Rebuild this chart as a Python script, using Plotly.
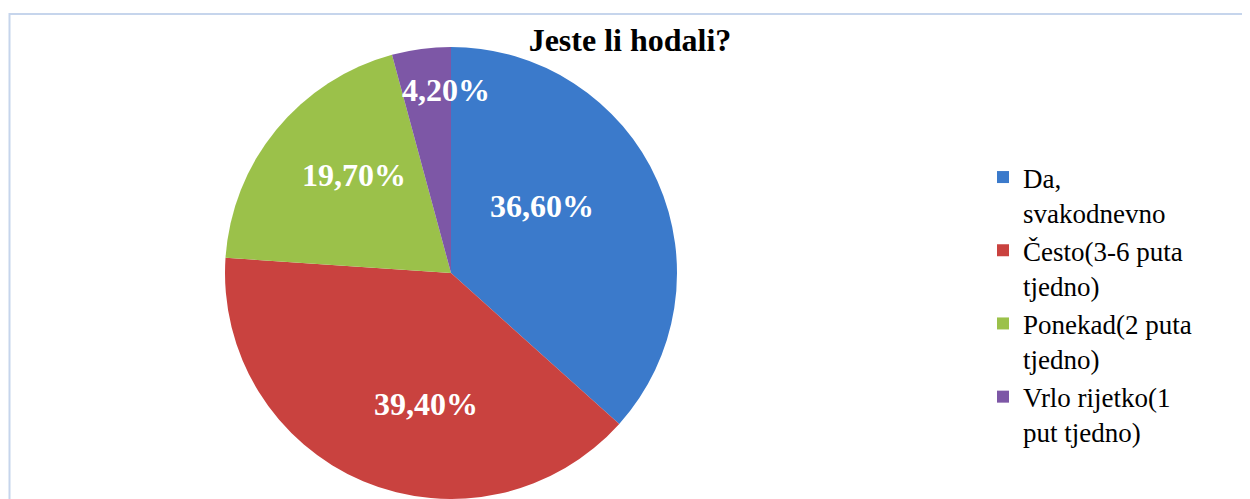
import math
import plotly.graph_objects as go

categories = ["Da,<br>svakodnevno", "Često(3-6 puta<br>tjedno)", "Ponekad(2 puta<br>tjedno)", "Vrlo rijetko(1<br>put tjedno)"]
values = [36.6, 39.4, 19.7, 4.2]
value_labels = ["36,60%", "39,40%", "19,70%", "4,20%"]
colors = ["#3b7acb", "#c9423f", "#9bc14a", "#7d57a6"]

# label placement style (fraction of radius, angular nudge in degrees)
label_rfrac = [0.50, 0.59, 0.61, 0.81]
label_dang = [-12, -12, 6, 6]

# page has an 8px body margin; figure sized to fit the 1250x499 window
W, H = 1242, 491
cx, cy, R = 443, 265, 226  # pie geometry in figure pixels

fig = go.Figure(go.Pie(
    labels=categories,
    values=values,
    textinfo="none",
    marker=dict(colors=colors, line=dict(width=0)),
    sort=False,
    direction="clockwise",
    rotation=0,
    domain=dict(x=[(cx - R) / W, (cx + R) / W], y=[(H - cy - R) / H, (H - cy + R) / H]),
    hoverinfo="label+percent",
))

total = sum(values)
cum = 0.0
annotations = []
for v, lab, rf, da in zip(values, value_labels, label_rfrac, label_dang):
    mid = (cum + v / 2) / total * 360 + da
    cum += v
    r = rf * R
    px = cx + r * math.sin(math.radians(mid))
    py = cy - r * math.cos(math.radians(mid))
    annotations.append(dict(
        x=px / W, y=(H - py) / H, xref="paper", yref="paper",
        text=f"<b>{lab}</b>", showarrow=False, xanchor="center", yanchor="middle",
        font=dict(family="Liberation Serif", size=32, color="white"),
    ))

fig.update_layout(
    width=W, height=H,
    margin=dict(l=0, r=0, t=0, b=0),
    paper_bgcolor="white",
    plot_bgcolor="white",
    title=dict(text="<b>Jeste li hodali?</b>", x=622 / W, xanchor="center", y=(H - 32) / H, yanchor="middle",
               font=dict(family="Liberation Serif", size=32, color="black")),
    legend=dict(x=975 / W, xanchor="left", y=(H - 145) / H, yanchor="top",
                font=dict(family="Liberation Serif", size=27, color="black"),
                bgcolor="rgba(0,0,0,0)", itemwidth=30, tracegroupgap=0, valign="top"),
    showlegend=True,
    annotations=annotations,
    shapes=[dict(type="rect", xref="paper", yref="paper", x0=1.5 / W, x1=1.01, y0=-0.01, y1=(H - 6) / H,
                 line=dict(color="#c6d5ec", width=2), fillcolor="rgba(0,0,0,0)", layer="below")],
)

fig.write_html("out.html")
